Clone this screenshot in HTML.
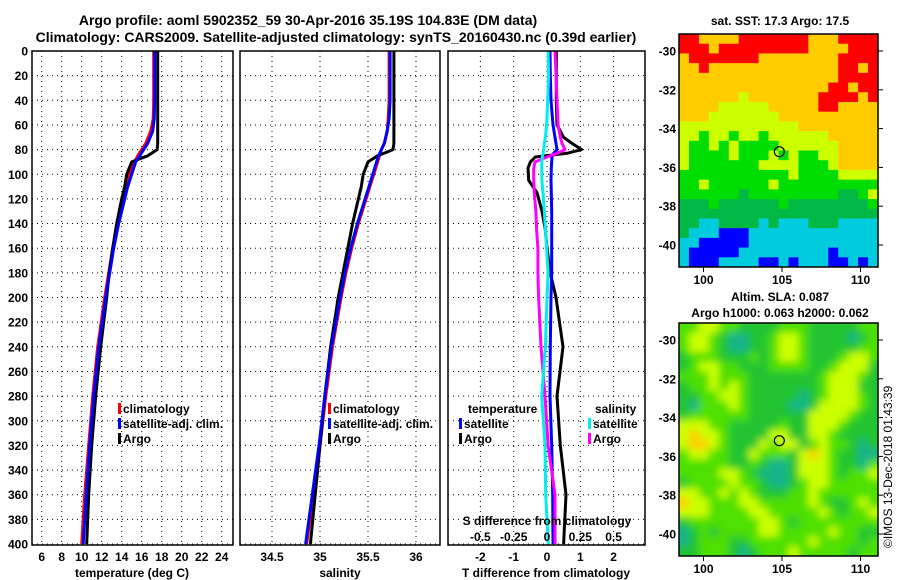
<!DOCTYPE html>
<html><head><meta charset="utf-8"><style>
body{margin:0;background:#fff;}
svg{display:block;font-family:"Liberation Sans",Arial,sans-serif;font-weight:bold;}
</style></head><body>
<svg id="c" width="900" height="580" viewBox="0 0 900 580" xmlns="http://www.w3.org/2000/svg">
<defs>
<clipPath id="clipSST"><rect x="679" y="34" width="199" height="233"/></clipPath>
<clipPath id="clipSLA"><rect x="679" y="323" width="199" height="233"/></clipPath>
<clipPath id="clipP1"><rect x="32" y="51" width="201" height="494"/></clipPath>
<clipPath id="clipP2"><rect x="240" y="51" width="200" height="494"/></clipPath>
<clipPath id="clipP3"><rect x="448" y="51" width="197" height="494"/></clipPath>
<filter id="blur"><feGaussianBlur stdDeviation="4"/></filter>
</defs>
<text x="308" y="25" font-size="14" text-anchor="middle">Argo profile: aoml 5902352_59 30-Apr-2016 35.19S 104.83E (DM data)</text>
<text x="336" y="42" font-size="14" text-anchor="middle">Climatology: CARS2009. Satellite-adjusted climatology: synTS_20160430.nc (0.39d earlier)</text>
<text x="780" y="25" font-size="12" text-anchor="middle">sat. SST: 17.3 Argo: 17.5</text>
<text x="780" y="301" font-size="12" text-anchor="middle">Altim. SLA: 0.087</text>
<text x="780" y="317" font-size="12" text-anchor="middle">Argo h1000: 0.063 h2000: 0.062</text>
<text x="0" y="0" font-size="12" font-weight="normal" transform="translate(892,548) rotate(-90)">©IMOS 13-Dec-2018 01:43:39</text>
<g id="g"></g>
</svg>
<script>
// ---- data ----
const depths=[0,20,40,55,65,75,80,85,90,100,110,120,140,160,180,200,240,280,320,360,400];
const tempClim=[17.2,17.2,17.2,17.15,16.9,16.4,16.0,15.6,15.3,14.8,14.5,14.2,13.6,13.1,12.7,12.3,11.6,11.1,10.7,10.3,10.0];
const tempSat=[17.3,17.3,17.3,17.25,17.1,16.6,16.2,15.8,15.4,15.0,14.6,14.3,13.7,13.2,12.8,12.4,11.7,11.2,10.8,10.45,10.15];
const tempArgo=[17.6,17.6,17.6,17.6,17.6,17.6,17.55,16.6,15.0,14.5,14.3,14.0,13.5,13.1,12.75,12.5,11.9,11.4,11.0,10.7,10.5];
const salClim=[35.72,35.72,35.72,35.71,35.70,35.67,35.64,35.62,35.60,35.56,35.52,35.48,35.40,35.33,35.27,35.22,35.13,35.06,35.0,34.93,34.86];
const salSat=[35.73,35.73,35.73,35.72,35.70,35.67,35.64,35.61,35.59,35.55,35.51,35.47,35.39,35.32,35.26,35.21,35.12,35.05,34.99,34.92,34.85];
const salArgo=[35.77,35.77,35.77,35.77,35.77,35.77,35.76,35.60,35.50,35.45,35.43,35.40,35.34,35.29,35.24,35.19,35.11,35.05,35.0,34.95,34.90];
const diffDepths=[0,20,40,60,70,75,80,83,86,90,95,105,115,130,145,160,180,200,240,280,320,360,400];
const dTArgo=[0.28,0.28,0.28,0.3,0.5,0.75,1.04,0.6,-0.35,-0.5,-0.57,-0.55,-0.3,-0.15,-0.05,0.0,0.1,0.27,0.48,0.3,0.4,0.57,0.5];
const dTSat=[0.09,0.1,0.12,0.18,0.24,0.27,0.3,0.2,0.15,0.14,0.13,0.12,0.13,0.14,0.14,0.14,0.14,0.12,0.1,0.09,0.14,0.17,0.18];
const dSSat=[0.008,0.012,0.005,-0.003,-0.012,-0.02,-0.025,-0.03,-0.035,-0.038,-0.04,-0.038,-0.03,-0.02,-0.012,-0.003,0.008,0,-0.012,-0.04,-0.015,-0.01,0.01];
const dSArgo=[0.06,0.068,0.075,0.083,0.1,0.113,0.135,0.075,0,-0.09,-0.1,-0.1,-0.095,-0.083,-0.078,-0.068,-0.068,-0.063,-0.045,-0.015,0.008,0.06,0.06];
const depthTicks=[0,20,40,60,80,100,120,140,160,180,200,220,240,260,280,300,320,340,360,380,400];
const tempTicks=[6,8,10,12,14,16,18,20,22,24];
const salTicks=[34.5,35,35.5,36];
const salTickLabels=["34.5","35","35.5","36"];
const tdTicks=[-2,-1,0,1,2];
const sdTicks=[-0.5,-0.25,0,0.25,0.5];
const sdTickLabels=["-0.5","-0.25","0","0.25","0.5"];
const mapLat=[-30,-32,-34,-36,-38,-40];
const mapLon=[100,105,110];
const sstGrid=[
"RROOOORRRRRRROOORRRR","RRRORRRRRRRRROOOORRR","ORRRRRRROOOOOOOORRRR","OOROOOOOOOOOOOOORROR",
"OOOOOOOOOOOOOOOORRRR","OOOOOOOOOOOOOOORRORR","OOOOOOYOOOOOOORRRROR","OOOOYYYYYOOOOORROOOO",
"OOOYYYYYYYOOOOOOOOOO","YYYYYYYYYYYYOOOOOOOO","YYGYYGYYGYYYYYYOOOOO","YGGYGYGGGGYYYYYYOOOO",
"YGGGGYGGGYGYGGYYOOOO","YGGGGGGGYYYYGGGYOOOO","GGGGGGGGGGGYGGGGYYYY","GGYGGGGGGYGGGGGGGGGG",
"GGGGGGDGGGGGGGGGDDGY","DDDGDDDDDDGDDDDDDDDG","DDDDDDDDDDDDDDDDDDDD","DDCCDDDDCDCCCDDDCCCC",
"DCCCBBBCCCCCCCCCCCCC","CCBBBBBCCCCCCCCCCCCC","CBBBBBCCCCCCCCCBCCCC","CBBBCCCCBBCBCCCBBCBC"];
const slaGrid=[
"llyyllgggglllgggggll","lyylgbbgglyylggggbgl","lyylgbbgglyylgggggll","glllggglglyylggglyyl",
"glyyllgggllllgglyyyg","lllylllggggggglyyylg","gllylylggggggglyyygg","ggllyylgggggbglyyylg",
"gblllylggggbbgyyyylg","gllllllggggggyyyylgg","yyyllggggglggyyylggg","yoyylggggyyggyylgggg",
"yooylgggylyyglyllgbg","lyyllggylllgyoylggbb","lllllgglgbbgyyylggbl","llllyylgbbbgyyylglly",
"gllllyllgbbglyylllll","yyllylylgggllyllllll","oyylllyylllllylgglyl","yyyllllyylllllylglly",
"glllllllyylgllllllll","bglgllllyylllllyllgg","bglllggllllllyllllgl","gglllgbglllylllllgll"];
const argoLon=104.83, argoLat=-35.19;
// ---- helpers ----
const NS="http://www.w3.org/2000/svg";
const G=document.getElementById('g');
function mk(tag,attrs,parent){const e=document.createElementNS(NS,tag);for(const k in attrs)e.setAttribute(k,attrs[k]);(parent||G).appendChild(e);return e;}
const yD=d=>51+d*1.2325;
const xT=t=>41.7+(t-6)*10;
const xS=s=>320+(s-35)*96;
const xTD=v=>547+v*33.3;
const xSD=v=>547+v*133.2;
const sstCol={R:"#ff0000",O:"#ffcc00",Y:"#ccff00",G:"#00dd00",D:"#00b844",C:"#00ccdd",B:"#0000ff"};
const slaCol={b:"#18b48a",g:"#22c430",l:"#4ee000",y:"#ccff00",o:"#ffcc00"};

// panels
const panels=[[32,233,'clipP1'],[240,440,'clipP2'],[448,645,'clipP3']];
function frame(x0,x1,name){
  const r=mk('rect',{x:x0,y:51,width:x1-x0,height:494,fill:"none",stroke:"#000","stroke-width":1.5});
  
  
}
function grid(x0,x1,xs){
  depthTicks.forEach(d=>{const l=mk('line',{x1:x0,x2:x1,y1:yD(d),y2:yD(d),stroke:"#000","stroke-dasharray":"1 4"});
    
    });
  xs.forEach(x=>{const l=mk('line',{x1:x,x2:x,y1:51,y2:545,stroke:"#000","stroke-dasharray":"1 4"});
    
    });
}
grid(32,233,tempTicks.map(xT));
grid(240,440,salTicks.map(xS));
grid(448,645,tdTicks.map(xTD));
// depth labels
depthTicks.forEach(d=>{const t=mk('text',{x:28,y:yD(d)+4.5,"font-size":12,"text-anchor":"end"});t.textContent=d;
  
  });
tempTicks.forEach(v=>{const t=mk('text',{x:xT(v),y:561,"font-size":12,"text-anchor":"middle"});t.textContent=v;
  
  });
salTicks.forEach((v,i)=>{const t=mk('text',{x:xS(v),y:561,"font-size":12,"text-anchor":"middle"});t.textContent=salTickLabels[i];
  
  });
tdTicks.forEach(v=>{const t=mk('text',{x:xTD(v),y:561,"font-size":12,"text-anchor":"middle"});t.textContent=v;
  
  });
[[132,"temperature (deg C)","x-axis-title-temp"],[340,"salinity","x-axis-title-salinity"],[546,"T difference from climatology","x-axis-title-tdiff"]].forEach(a=>{
  const t=mk('text',{x:a[0],y:577,"font-size":12,"text-anchor":"middle"});t.textContent=a[1];
  
  });

function line(xs,ys,fx,col,clip,name){
  const pts=xs.map((v,i)=>fx(v).toFixed(1)+","+yD(ys[i]).toFixed(1)).join(" ");
  const p=mk('polyline',{points:pts,fill:"none",stroke:col,"stroke-width":3,"clip-path":"url(#"+clip+")","stroke-linejoin":"round"});
  
  
}
line(tempClim,depths,xT,"#ff0000","clipP1","temp-climatology-line");
line(tempArgo,depths,xT,"#000000","clipP1","temp-argo-line");
line(tempSat,depths,xT,"#0000ff","clipP1","temp-satellite-line");
line(salClim,depths,xS,"#ff0000","clipP2","sal-climatology-line");
line(salArgo,depths,xS,"#000000","clipP2","sal-argo-line");
line(salSat,depths,xS,"#0000ff","clipP2","sal-satellite-line");
line(dTArgo,diffDepths,xTD,"#000000","clipP3","tdiff-argo-line");
line(dTSat,diffDepths,xTD,"#0000ff","clipP3","tdiff-satellite-line");
line(dSArgo,diffDepths,xSD,"#ff00ff","clipP3","sdiff-argo-line");
line(dSSat,diffDepths,xSD,"#00eeee","clipP3","sdiff-satellite-line");

frame(32,233,'temperature-panel');
frame(240,440,'salinity-panel');
frame(448,645,'difference-panel');

function legend(x,y,col,label,name){
  const r=mk('rect',{x:x,y:y-10,width:3,height:11,fill:col});
  
  
  const t=mk('text',{x:x+5,y:y,"font-size":12});t.textContent=label;
  
  
}
legend(118,413,"#ff0000","climatology","legend-temp-climatology");
legend(118,428,"#0000ff","satellite-adj. clim.","legend-temp-satellite");
legend(118,443,"#000000","Argo","legend-temp-argo");
legend(328,413,"#ff0000","climatology","legend-sal-climatology");
legend(328,428,"#0000ff","satellite-adj. clim.","legend-sal-satellite");
legend(328,443,"#000000","Argo","legend-sal-argo");
{const t=mk('text',{x:468,y:413,"font-size":12});t.textContent="temperature";
 
 }
{const t=mk('text',{x:595,y:413,"font-size":12});t.textContent="salinity";
 
 }
legend(459,428,"#0000ff","satellite","legend-tdiff-satellite");
legend(459,443,"#000000","Argo","legend-tdiff-argo");
legend(588,428,"#00eeee","satellite","legend-sdiff-satellite");
legend(588,443,"#ff00ff","Argo","legend-sdiff-argo");
{const t=mk('text',{x:547,y:525,"font-size":12,"text-anchor":"middle"});t.textContent="S difference from climatology";
 
 }
sdTicks.forEach((v,i)=>{const t=mk('text',{x:xSD(v),y:541,"font-size":12,"text-anchor":"middle"});t.textContent=sdTickLabels[i];
  
  });

// maps
function map(grid,cols,y0,clip,latY0,blur,name){
  const gg=mk('g',{"clip-path":"url(#"+clip+")"});
  
  
  const inner=mk('g',blur?{filter:"url(#blur)"}:{},gg);
  const cw=199/20,ch=233/24;
  grid.forEach((row,r)=>{for(let c=0;c<20;c++){
    const ext=blur?6:0;
    const rr=mk('rect',{x:679+c*cw-(c==0?ext:0),y:y0+r*ch-(r==0?ext:0),width:cw+0.6+(c==0||c==19?ext:0),height:ch+0.6+(r==0||r==23?ext:0),fill:cols[row[c]]},inner);
    
    
  }});
  const fr=mk('rect',{x:679,y:y0,width:199,height:233,fill:"none",stroke:"#000","stroke-width":1.5});
  
  
  const lonX=l=>782+(l-105)*15.7, latY=l=>latY0+(-30-l)*19.4;
  mapLat.forEach(l=>{
    const t=mk('text',{x:676,y:latY(l)+4.5,"font-size":12,"text-anchor":"end"});t.textContent=l;
    
    
    mk('line',{x1:878,x2:883,y1:latY(l),y2:latY(l),stroke:"#000"});
  });
  mapLon.forEach(l=>{
    const t=mk('text',{x:lonX(l),y:y0+250,"font-size":12,"text-anchor":"middle"});t.textContent=l;
    
    
    mk('line',{x1:lonX(l),x2:lonX(l),y1:y0+233,y2:y0+238,stroke:"#000"});
  });
  const c=mk('circle',{cx:lonX(argoLon),cy:latY(argoLat),r:5,fill:"none",stroke:"#000","stroke-width":1.2});
  
  
}
map(sstGrid,sstCol,34,'clipSST',51,false,'sst-map');
map(slaGrid,slaCol,323,'clipSLA',340,true,'sla-map');
</script>
</body></html>
